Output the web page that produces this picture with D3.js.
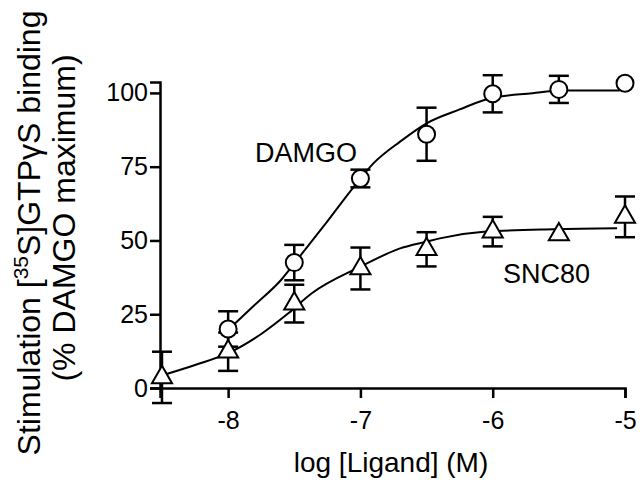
<!DOCTYPE html>
<html>
<head>
<meta charset="utf-8">
<script src="https://cdn.jsdelivr.net/npm/d3@7"></script>
<style>
    body { margin: 0; background: #fff; }
    svg { display: block; font-family: "Liberation Sans", Arial, sans-serif; }
    .axis path, .axis line { stroke: #000; stroke-width: 2.5; }
    .axis text { font-size: 25px; fill: #000; }
</style>
</head>
<body>
<svg id="chart" width="640" height="485"></svg>
<script>

// log [Ligand] (M) doses
var doses = [-8.5, -8, -7.5, -7, -6.5, -6, -5.5, -5];

// DAMGO (no -8.5 point), mean and error
var damgoDoses = [-8, -7.5, -7, -6.5, -6, -5.5, -5];
var damgoMean = [20, 42.5, 71, 86, 99.7, 101.2, 103.3];
var damgoErr = [6, 6, 3, 9, 6.3, 4.6, 0];

// SNC80
var sncMean = [3.6, 12.3, 28.6, 40.5, 47, 53, 52, 58];
var sncErr = [8.7, 6.5, 6.4, 7.1, 5.8, 5, 0, 6.9];

// fitted curves
var damgoFitX = [-7.98, -7.80, -7.60, -7.46, -7.25, -7.05, -6.90, -6.70, -6.50, -6.25, -6.02, -5.70, -5.49, -5.04];
var damgoFitY = [20.5, 28.1, 36.6, 44.5, 56.5, 68.2, 76.2, 83.5, 89.7, 94.4, 98.2, 99.9, 100.8, 100.8];
var sncFitX = [-8.49, -8.25, -8.0, -7.75, -7.545, -7.37, -7.0, -6.70, -6.50, -6.40, -6.05, -5.54, -5.06];
var sncFitY = [4.4, 7.8, 11.8, 18.3, 25.3, 32, 41.1, 47.3, 49.6, 50.7, 53.0, 53.8, 54.1];

var xTicks = [-8, -7, -6, -5];
var yTicks = [0, 25, 50, 75, 100];

var svg = d3.select('#chart');

var xScale = d3.scaleLinear()
    .domain([-8.515, -5])
    .range([160, 625]);

var yScale = d3.scaleLinear()
    .domain([0, 103.7])
    .range([388, 82]);

// axes
svg.append('g')
    .attr('class', 'axis')
    .attr('transform', 'translate(0,' + yScale(0) + ')')
    .call(d3.axisBottom(xScale)
        .tickValues(xTicks)
        .tickSizeOuter(0)
        .tickSize(10)
        .tickPadding(13)
        .tickFormat(function (d) { return d; }));

svg.append('g')
    .attr('class', 'axis')
    .attr('transform', 'translate(' + xScale(-8.515) + ',0)')
    .call(d3.axisLeft(yScale)
        .tickValues(yTicks)
        .tickSizeOuter(0)
        .tickSize(10)
        .tickPadding(2));

svg.selectAll('.axis text').attr('font-family', null);
svg.selectAll('.axis').attr('font-family', null).attr('font-size', null);

// axis titles
svg.append('text')
    .attr('x', 391)
    .attr('y', 472)
    .attr('text-anchor', 'middle')
    .style('font-size', '28px')
    .text('log [Ligand] (M)');

var yTitle = svg.append('text')
    .attr('transform', 'rotate(-90)')
    .attr('x', -233)
    .attr('y', 40)
    .attr('text-anchor', 'middle')
    .style('font-size', '32px');
yTitle.append('tspan').text('Stimulation [');
yTitle.append('tspan').attr('dy', -12).style('font-size', '21px').text('35');
yTitle.append('tspan').attr('dy', 12).text('S]GTPγS binding');

svg.append('text')
    .attr('transform', 'rotate(-90)')
    .attr('x', -218)
    .attr('y', 75)
    .attr('text-anchor', 'middle')
    .style('font-size', '32px')
    .text('(% DAMGO maximum)');

// fit lines
var line = d3.line()
    .x(function (d) { return xScale(d[0]); })
    .y(function (d) { return yScale(d[1]); })
    .curve(d3.curveMonotoneX);

svg.append('path')
    .datum(d3.zip(damgoFitX, damgoFitY))
    .attr('d', line)
    .attr('fill', 'none')
    .attr('stroke', '#000')
    .attr('stroke-width', 2);

svg.append('path')
    .datum(d3.zip(sncFitX, sncFitY))
    .attr('d', line)
    .attr('fill', 'none')
    .attr('stroke', '#000')
    .attr('stroke-width', 2);

// error bars
function errorBars(xs, means, errs) {
    var rows = xs.map(function (x, i) {
        return {x: x, m: means[i], e: errs[i]};
    }).filter(function (d) { return d.e > 0; });

    var g = svg.append('g')
        .attr('stroke', '#000')
        .attr('stroke-width', 2.5);

    g.selectAll('line.v').data(rows).enter()
        .append('line')
        .attr('x1', function (d) { return xScale(d.x); })
        .attr('x2', function (d) { return xScale(d.x); })
        .attr('y1', function (d) { return yScale(d.m + d.e); })
        .attr('y2', function (d) { return yScale(d.m - d.e); });

    [1, -1].forEach(function (s) {
        g.selectAll('line.c' + s).data(rows).enter()
            .append('line')
            .attr('x1', function (d) { return xScale(d.x) - 10; })
            .attr('x2', function (d) { return xScale(d.x) + 10; })
            .attr('y1', function (d) { return yScale(d.m + s * d.e); })
            .attr('y2', function (d) { return yScale(d.m + s * d.e); });
    });
}

errorBars(damgoDoses, damgoMean, damgoErr);
errorBars(doses, sncMean, sncErr);

// markers
svg.selectAll('circle.damgo')
    .data(damgoDoses)
    .enter()
    .append('circle')
    .attr('class', 'damgo')
    .attr('cx', function (d) { return xScale(d); })
    .attr('cy', function (d, i) { return yScale(damgoMean[i]); })
    .attr('r', 8.5)
    .attr('fill', '#fff')
    .attr('stroke', '#000')
    .attr('stroke-width', 2);

var tri = d3.symbol().type(d3.symbolTriangle).size(175);

svg.selectAll('path.snc')
    .data(doses)
    .enter()
    .append('path')
    .attr('class', 'snc')
    .attr('d', tri)
    .attr('transform', function (d, i) {
        return 'translate(' + xScale(d) + ',' + yScale(sncMean[i]) + ')';
    })
    .attr('fill', '#fff')
    .attr('stroke', '#000')
    .attr('stroke-width', 2);

// series labels
svg.append('text')
    .attr('x', 255)
    .attr('y', 162)
    .style('font-size', '27px')
    .text('DAMGO');

svg.append('text')
    .attr('x', 503)
    .attr('y', 283)
    .style('font-size', '27px')
    .text('SNC80');

</script>
</body>
</html>
